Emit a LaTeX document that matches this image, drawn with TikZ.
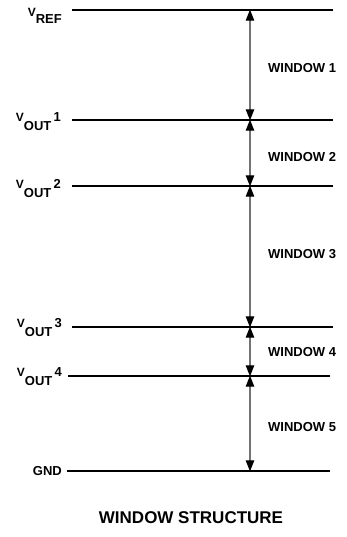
\documentclass[tikz,border=0pt]{standalone}
\usepackage{fontspec}
\setmainfont{Liberation Sans}
\usetikzlibrary{arrows.meta,positioning,calc}

\newcommand{\vsym}[2]{\raisebox{#2}{\fontsize{12}{12}\selectfont V}#1}

\begin{document}
\begin{tikzpicture}[x=1pt, y=-1pt, >={Triangle[length=11pt,width=8.5pt,color=black]}, font=\fontsize{13}{14}\selectfont\bfseries]
\tikzstyle{level}=[draw=black, line width=1.5pt]
\tikzstyle{span}=[<->, draw=black!55, line width=1.2pt, shorten <=-0.3pt, shorten >=-0.3pt]
\tikzstyle{rail}=[inner sep=0pt, anchor=base east]
\tikzstyle{win}=[inner sep=0pt, anchor=west]

\useasboundingbox (0,0) rectangle (347,537);

% level lines
\coordinate (ref-l)  at (72,10);   \coordinate (ref-r)  at (333,10);
\coordinate (out1-l) at (72,120);  \coordinate (out1-r) at (333,120);
\coordinate (out2-l) at (72,186);  \coordinate (out2-r) at (333,186);
\coordinate (out3-l) at (72,327);  \coordinate (out3-r) at (333,327);
\coordinate (out4-l) at (68,376);  \coordinate (out4-r) at (330,376);
\coordinate (gnd-l)  at (67,471);  \coordinate (gnd-r)  at (330,471);

\draw[level] (ref-l) -- (ref-r);
\draw[level] (out1-l) -- (out1-r);
\draw[level] (out2-l) -- (out2-r);
\draw[level] (out3-l) -- (out3-r);
\draw[level] (out4-l) -- (out4-r);
\draw[level] (gnd-l) -- (gnd-r);

% rail names
\node[rail] (vref) at ($(ref-l)+(-10,14)$)  {\vsym{REF}{7pt}};
\node[rail] (vout1) at ($(out1-l)+(-11,11)$) {\vsym{OUT}{9pt}\,\raisebox{9pt}{1}};
\node[rail] (vout2) at ($(out2-l)+(-11,11)$) {\vsym{OUT}{9pt}\,\raisebox{9pt}{2}};
\node[rail] (vout3) at ($(out3-l)+(-10,9)$)  {\vsym{OUT}{9pt}\,\raisebox{9pt}{3}};
\node[rail] (vout4) at ($(out4-l)+(-6,9)$)   {\vsym{OUT}{9pt}\,\raisebox{9pt}{4}};
\node[inner sep=0pt, left=5pt of gnd-l] (gnd) {GND};

% windows
\coordinate (a0) at (250,10);
\coordinate (a1) at (250,120);
\coordinate (a2) at (250,186);
\coordinate (a3) at (250,327);
\coordinate (a4) at (250,376);
\coordinate (a5) at (250,471);

\draw[span] (a0) -- (a1);
\draw[span] (a1) -- (a2);
\draw[span] (a2) -- (a3);
\draw[span] (a3) -- (a4);
\draw[span] (a4) -- (a5);

\node[win] (w1) at (268,68)  {WINDOW 1};
\node[win] (w2) at (268,157) {WINDOW 2};
\node[win] (w3) at (268,254) {WINDOW 3};
\node[win] (w4) at (268,352) {WINDOW 4};
\node[win] (w5) at (268,427) {WINDOW 5};

\node[font=\fontsize{17}{18}\selectfont\bfseries] (title) at (191,518) {WINDOW STRUCTURE};

\end{tikzpicture}
\end{document}
